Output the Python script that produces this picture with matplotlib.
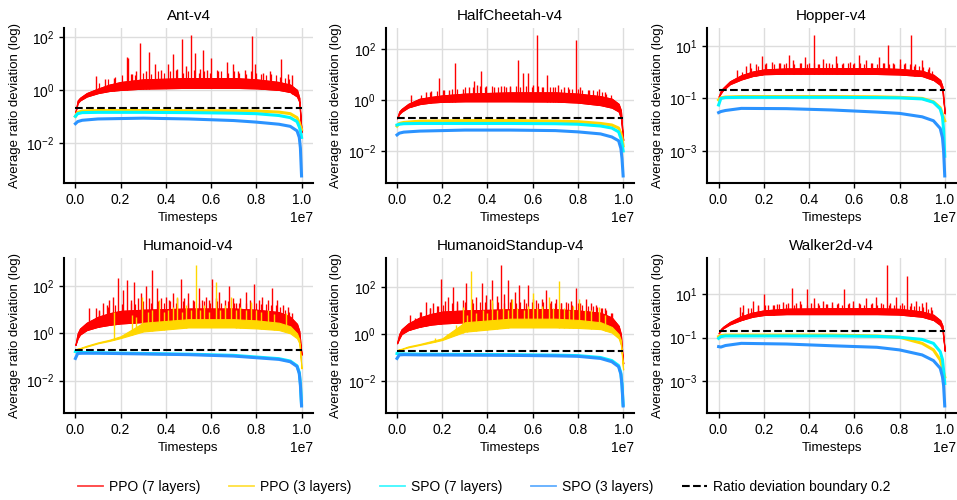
import numpy as np
import matplotlib.pyplot as plt
from matplotlib.lines import Line2D

plt.rcParams['font.family'] = ['Liberation Sans', 'DejaVu Sans']

# Environment names and y tick decades (log10)
envs = ['Ant-v4', 'HalfCheetah-v4', 'Hopper-v4',
        'Humanoid-v4', 'HumanoidStandup-v4', 'Walker2d-v4']
ytick_exps = [[-2, 0, 2], [-2, 0, 2], [-3, -1, 1],
              [-2, 0, 2], [-2, 0, 2], [-3, -1, 1]]
xticks = [0.0, 0.2, 0.4, 0.6, 0.8, 1.0]

# x positions (fraction of 1e7 timesteps)
x_band = [0, 0.01, 0.02, 0.05, 0.1, 0.15, 0.2, 0.3, 0.5, 0.7, 0.8, 0.9, 0.95, 0.98, 0.99, 1.0]
x_smooth = [0, 0.01, 0.03, 0.1, 0.3, 0.5, 0.7, 0.8, 0.9, 0.95, 0.98, 0.99, 0.995, 1.0]
# positions of the small noise peaks on top of the PPO (7 layers) band
small_x = [0.105, 0.145, 0.175, 0.205, 0.245, 0.265, 0.30, 0.335, 0.365, 0.39, 0.42,
           0.445, 0.475, 0.50, 0.525, 0.545, 0.57, 0.595, 0.625, 0.645, 0.675, 0.70,
           0.725, 0.755, 0.775, 0.80, 0.82, 0.845, 0.865, 0.885, 0.905, 0.925, 0.945]

boundary = 0.2

# All values below are log10 of the average ratio deviation.

# ---- PPO (7 layers): noisy band (low / high edge) plus spikes (x, peak) ----
ppo7_lo = {
    'Ant-v4':             [-0.85, -0.50, -0.40, -0.25, -0.12, -0.04, 0.00, 0.05, 0.08, 0.08, 0.06, 0.00, -0.08, -0.25, -0.45, -1.60],
    'HalfCheetah-v4':     [-0.72, -0.55, -0.46, -0.29, -0.16, -0.10, -0.07, -0.05, -0.05, -0.06, -0.10, -0.20, -0.30, -0.45, -0.70, -1.57],
    'Hopper-v4':          [-0.94, -0.80, -0.68, -0.46, -0.28, -0.15, -0.08, -0.06, -0.06, -0.07, -0.09, -0.15, -0.30, -0.49, -0.75, -1.57],
    'Humanoid-v4':        [-0.49, -0.21, -0.05, 0.14, 0.28, 0.36, 0.42, 0.48, 0.50, 0.50, 0.48, 0.42, 0.21, 0.00, -0.20, -0.90],
    'HumanoidStandup-v4': [-0.39, -0.18, 0.00, 0.17, 0.31, 0.40, 0.45, 0.50, 0.52, 0.52, 0.50, 0.45, 0.24, -0.04, -0.39, -1.24],
    'Walker2d-v4':        [-0.80, -0.68, -0.57, -0.39, -0.19, -0.04, 0.04, 0.08, 0.08, 0.08, 0.06, -0.04, -0.19, -0.42, -0.65, -1.60],
}
ppo7_hi = {
    'Ant-v4':             [-0.85, -0.40, -0.30, -0.12, 0.05, 0.20, 0.30, 0.40, 0.45, 0.45, 0.40, 0.30, 0.20, 0.00, -0.30, -1.60],
    'HalfCheetah-v4':     [-0.72, -0.45, -0.35, -0.15, 0.05, 0.12, 0.18, 0.25, 0.30, 0.30, 0.25, 0.15, 0.05, -0.15, -0.40, -1.57],
    'Hopper-v4':          [-0.94, -0.70, -0.60, -0.35, -0.12, 0.02, 0.10, 0.14, 0.15, 0.15, 0.12, 0.05, -0.10, -0.30, -0.55, -1.57],
    'Humanoid-v4':        [-0.49, 0.00, 0.20, 0.45, 0.70, 0.85, 0.95, 1.00, 1.05, 1.05, 1.00, 0.90, 0.70, 0.40, 0.10, -0.90],
    'HumanoidStandup-v4': [-0.39, 0.00, 0.20, 0.45, 0.70, 0.85, 0.95, 1.00, 1.05, 1.05, 1.00, 0.90, 0.70, 0.35, 0.00, -1.24],
    'Walker2d-v4':        [-0.80, -0.60, -0.50, -0.28, -0.02, 0.15, 0.25, 0.33, 0.35, 0.35, 0.32, 0.20, 0.05, -0.20, -0.45, -1.60],
}
ppo7_small_y = {
    'Ant-v4':             [0.25, 0.40, 0.50, 0.55, 0.60, 0.55, 0.65, 0.60, 0.70, 0.65, 0.70, 0.75, 0.65, 0.70, 0.75, 0.65, 0.70,
                           0.65, 0.75, 0.70, 0.65, 0.70, 0.65, 0.60, 0.70, 0.65, 0.60, 0.55, 0.60, 0.55, 0.50, 0.45, 0.40],
    'HalfCheetah-v4':     [0.20, 0.30, 0.35, 0.40, 0.45, 0.45, 0.50, 0.50, 0.55, 0.50, 0.55, 0.50, 0.55, 0.50, 0.55, 0.50, 0.55,
                           0.50, 0.55, 0.50, 0.50, 0.50, 0.45, 0.50, 0.45, 0.45, 0.40, 0.40, 0.40, 0.35, 0.30, 0.25, 0.20],
    'Hopper-v4':          [0.00, 0.15, 0.25, 0.30, 0.30, 0.35, 0.35, 0.30, 0.35, 0.30, 0.35, 0.30, 0.35, 0.30, 0.35, 0.30, 0.35,
                           0.30, 0.35, 0.30, 0.35, 0.30, 0.35, 0.30, 0.30, 0.30, 0.30, 0.30, 0.25, 0.25, 0.20, 0.10, 0.05],
    'Humanoid-v4':        [0.95, 1.10, 1.20, 1.25, 1.30, 1.25, 1.35, 1.30, 1.35, 1.30, 1.35, 1.30, 1.35, 1.30, 1.35, 1.30, 1.35,
                           1.30, 1.35, 1.30, 1.35, 1.30, 1.30, 1.30, 1.30, 1.30, 1.25, 1.25, 1.20, 1.20, 1.10, 1.00, 0.90],
    'HumanoidStandup-v4': [0.95, 1.10, 1.20, 1.25, 1.30, 1.30, 1.35, 1.30, 1.35, 1.35, 1.30, 1.35, 1.30, 1.35, 1.30, 1.35, 1.30,
                           1.35, 1.30, 1.35, 1.30, 1.30, 1.30, 1.30, 1.25, 1.30, 1.25, 1.20, 1.20, 1.15, 1.10, 1.00, 0.90],
    'Walker2d-v4':        [0.20, 0.35, 0.45, 0.50, 0.50, 0.55, 0.55, 0.50, 0.55, 0.50, 0.55, 0.50, 0.55, 0.50, 0.55, 0.50, 0.55,
                           0.50, 0.55, 0.50, 0.55, 0.50, 0.55, 0.50, 0.50, 0.50, 0.50, 0.45, 0.45, 0.45, 0.40, 0.30, 0.25],
}
ppo7_spike_x = {
    'Ant-v4': [0.09, 0.13, 0.17, 0.227, 0.234, 0.25, 0.27, 0.286, 0.31, 0.326, 0.35, 0.38, 0.41, 0.43,
               0.45, 0.47, 0.49, 0.51, 0.53, 0.55, 0.565, 0.58, 0.60, 0.63, 0.67, 0.695, 0.72, 0.75,
               0.78, 0.795, 0.83, 0.86, 0.91, 0.94, 0.96],
    'HalfCheetah-v4': [0.06, 0.13, 0.15, 0.185, 0.206, 0.23, 0.255, 0.29, 0.32, 0.34, 0.355, 0.372, 0.395,
                       0.43, 0.46, 0.48, 0.50, 0.533, 0.555, 0.58, 0.60, 0.617, 0.64, 0.665, 0.69, 0.713,
                       0.74, 0.76, 0.79, 0.81, 0.85, 0.894, 0.92],
    'Hopper-v4': [0.08, 0.12, 0.14, 0.165, 0.19, 0.21, 0.234, 0.27, 0.29, 0.31, 0.33, 0.36, 0.38, 0.40,
                  0.42, 0.44, 0.46, 0.49, 0.52, 0.55, 0.58, 0.60, 0.62, 0.65, 0.68, 0.71, 0.73, 0.75,
                  0.77, 0.80, 0.826, 0.85, 0.87, 0.90, 0.93],
    'Humanoid-v4': [0.06, 0.09, 0.105, 0.12, 0.14, 0.15, 0.165, 0.19, 0.21, 0.23, 0.245, 0.26, 0.275,
                    0.29, 0.31, 0.325, 0.34, 0.36, 0.38, 0.40, 0.415, 0.43, 0.45, 0.466, 0.48, 0.50,
                    0.52, 0.547, 0.56, 0.577, 0.59, 0.606, 0.62, 0.636, 0.66, 0.68, 0.695, 0.71, 0.73,
                    0.754, 0.77, 0.79, 0.81, 0.827, 0.85, 0.87, 0.89, 0.916, 0.94, 0.96],
    'HumanoidStandup-v4': [0.056, 0.08, 0.10, 0.126, 0.145, 0.16, 0.18, 0.196, 0.21, 0.225, 0.247, 0.265,
                           0.29, 0.306, 0.33, 0.35, 0.376, 0.394, 0.41, 0.42, 0.44, 0.46, 0.475, 0.49,
                           0.505, 0.52, 0.54, 0.56, 0.58, 0.60, 0.615, 0.64, 0.66, 0.68, 0.705, 0.725,
                           0.747, 0.77, 0.79, 0.81, 0.835, 0.86, 0.88, 0.90, 0.92, 0.95],
    'Walker2d-v4': [0.094, 0.106, 0.13, 0.153, 0.175, 0.20, 0.22, 0.24, 0.26, 0.285, 0.305, 0.324, 0.34,
                    0.36, 0.39, 0.41, 0.42, 0.44, 0.46, 0.48, 0.50, 0.53, 0.555, 0.575, 0.594, 0.62,
                    0.653, 0.68, 0.697, 0.72, 0.743, 0.76, 0.785, 0.81, 0.832, 0.85, 0.874, 0.90,
                    0.918, 0.94],
}
ppo7_spike_y = {
    'Ant-v4': [0.53, 0.40, 0.45, 1.26, 1.20, 0.60, 0.70, 1.79, 0.70, 1.45, 1.00, 0.75, 1.00, 1.38,
               0.80, 1.94, 0.90, 2.08, 1.40, 0.80, 1.50, 0.75, 1.20, 0.70, 1.07, 1.00, 0.70, 0.75,
               2.05, 1.00, 0.65, 0.70, 1.16, 0.60, 0.55],
    'HalfCheetah-v4': [0.20, 0.30, 0.35, 0.85, 0.40, 0.40, 1.44, 0.45, 0.50, 0.75, 0.60, 1.14, 0.55,
                       0.50, 0.55, 0.50, 0.55, 1.57, 1.07, 1.05, 0.60, 2.55, 0.50, 0.98, 0.50, 0.60,
                       0.50, 0.45, 2.35, 0.50, 0.40, 0.45, 0.30],
    'Hopper-v4': [0.08, 0.25, 0.33, 0.30, 0.61, 0.35, 0.39, 0.35, 0.30, 0.65, 0.45, 0.35, 0.58, 0.35,
                  1.41, 0.30, 0.50, 0.35, 0.60, 0.35, 0.40, 0.35, 0.65, 0.45, 0.35, 0.58, 0.35, 1.03,
                  0.35, 0.50, 0.35, 1.41, 0.30, 0.46, 0.20],
    'Humanoid-v4': [1.06, 1.06, 1.00, 1.27, 1.20, 1.40, 1.55, 2.35, 1.83, 2.25, 1.40, 2.18, 1.50,
                    1.70, 2.00, 1.50, 2.68, 1.90, 1.50, 1.55, 1.40, 1.70, 1.50, 2.32, 1.50, 1.70,
                    1.40, 1.90, 1.40, 1.55, 1.40, 2.32, 1.50, 1.77, 1.40, 2.00, 1.50, 1.27, 1.50,
                    1.77, 1.40, 2.10, 1.40, 1.55, 1.40, 1.90, 1.40, 1.20, 1.10, 0.85],
    'HumanoidStandup-v4': [0.80, 0.70, 0.94, 1.37, 1.10, 1.30, 1.20, 2.31, 1.40, 1.58, 2.00, 1.40,
                           1.44, 2.14, 1.50, 1.58, 2.14, 1.65, 1.50, 2.28, 1.60, 2.92, 1.70, 2.28,
                           1.50, 1.79, 2.07, 1.50, 2.07, 1.50, 1.44, 1.50, 1.86, 1.40, 1.50, 1.30,
                           1.37, 1.40, 1.93, 1.30, 1.50, 1.30, 1.23, 1.10, 1.09, 0.90],
    'Walker2d-v4': [0.42, 0.50, 0.35, 0.69, 0.50, 0.98, 0.50, 0.50, 0.55, 0.65, 0.60, 1.29, 0.60,
                    0.70, 1.23, 0.60, 0.80, 0.60, 0.70, 0.55, 0.65, 0.60, 1.21, 0.60, 0.70, 0.60,
                    0.80, 0.60, 0.85, 0.60, 2.33, 0.60, 0.85, 0.60, 1.84, 0.60, 0.70, 0.60,
                    0.65, 0.40],
}

# ---- PPO (3 layers): noisy band in the Humanoid tasks, smooth line elsewhere ----
ppo3_lo = {
    'Humanoid-v4':        [-0.68, -0.66, -0.64, -0.56, -0.42, -0.32, -0.20, 0.08, 0.25, 0.25, 0.21, 0.14, 0.00, -0.21, -0.42, -1.48],
    'HumanoidStandup-v4': [-0.68, -0.66, -0.64, -0.56, -0.46, -0.36, -0.25, 0.10, 0.28, 0.28, 0.26, 0.21, 0.06, -0.18, -0.46, -1.50],
}
ppo3_hi = {
    'Humanoid-v4':        [-0.68, -0.64, -0.62, -0.52, -0.38, -0.27, -0.12, 0.45, 0.60, 0.60, 0.55, 0.45, 0.30, 0.00, -0.25, -1.48],
    'HumanoidStandup-v4': [-0.68, -0.64, -0.62, -0.52, -0.42, -0.30, -0.18, 0.50, 0.65, 0.65, 0.60, 0.50, 0.30, 0.00, -0.25, -1.50],
}
ppo3_spike_x = {
    'Humanoid-v4': [0.17, 0.25, 0.27, 0.296, 0.32, 0.34, 0.37, 0.39, 0.41, 0.43, 0.45, 0.47, 0.49, 0.51,
                    0.533, 0.55, 0.57, 0.59, 0.62, 0.64, 0.66, 0.69, 0.71, 0.73, 0.755, 0.776, 0.80,
                    0.82, 0.85, 0.88, 0.93],
    'HumanoidStandup-v4': [0.166, 0.22, 0.26, 0.29, 0.31, 0.328, 0.35, 0.38, 0.40, 0.42, 0.44, 0.47,
                           0.49, 0.51, 0.53, 0.56, 0.58, 0.60, 0.62, 0.64, 0.67, 0.69, 0.718, 0.74,
                           0.76, 0.78, 0.806, 0.83, 0.86, 0.894, 0.92],
}
ppo3_spike_y = {
    'Humanoid-v4': [0.90, 0.77, 0.70, 1.55, 0.90, 1.00, 1.40, 0.90, 1.00, 1.10, 1.55, 0.90, 1.20, 1.00,
                    2.89, 1.00, 1.20, 0.90, 2.18, 1.00, 1.20, 1.55, 1.00, 1.10, 1.00, 1.34, 1.00,
                    0.90, 1.00, 0.80, 0.85],
    'HumanoidStandup-v4': [-0.15, 0.00, 0.40, 1.15, 0.80, 2.68, 0.90, 1.00, 0.90, 1.44, 1.00, 1.10,
                           1.00, 1.50, 1.10, 1.00, 1.20, 1.72, 1.10, 1.20, 1.58, 1.10, 2.25, 1.10,
                           1.00, 1.20, 1.50, 1.00, 1.00, 1.15, 0.80],
}
ppo3_smooth = {
    'Ant-v4':         [-1.00, -0.85, -0.80, -0.78, -0.78, -0.79, -0.79, -0.80, -0.84, -0.90, -1.05, -1.25, -1.38, -1.50],
    'HalfCheetah-v4': [-1.02, -0.92, -0.88, -0.83, -0.81, -0.81, -0.83, -0.85, -0.92, -0.98, -1.10, -1.30, -1.50, -1.80],
    'Hopper-v4':      [-1.06, -0.98, -0.95, -0.93, -0.93, -0.93, -0.94, -0.96, -1.00, -1.13, -1.35, -1.60, -1.75, -1.85],
    'Walker2d-v4':    [-0.95, -0.90, -0.88, -0.88, -0.88, -0.88, -0.92, -0.98, -1.26, -1.56, -2.02, -2.40, -2.60, -2.80],
}

# ---- SPO (7 layers) ----
spo7 = {
    'Ant-v4':             [-1.00, -0.90, -0.86, -0.85, -0.85, -0.86, -0.88, -0.90, -0.97, -1.05, -1.20, -1.40, -1.55, -1.80],
    'HalfCheetah-v4':     [-0.98, -0.95, -0.93, -0.92, -0.92, -0.92, -0.93, -0.95, -1.02, -1.10, -1.25, -1.50, -1.70, -2.00],
    'Hopper-v4':          [-1.25, -1.00, -0.97, -0.96, -0.96, -0.96, -0.97, -0.98, -1.02, -1.15, -1.40, -1.70, -2.20, -3.20],
    'Humanoid-v4':        [-0.77, -0.80, -0.81, -0.82, -0.85, -0.88, -0.93, -1.00, -1.07, -1.17, -1.37, -1.65, -2.10, -3.00],
    'HumanoidStandup-v4': [-0.82, -0.84, -0.84, -0.85, -0.86, -0.87, -0.89, -0.91, -0.99, -1.12, -1.33, -1.65, -2.10, -3.00],
    'Walker2d-v4':        [-1.03, -0.95, -0.92, -0.92, -0.92, -0.92, -0.94, -0.98, -1.08, -1.26, -1.64, -2.00, -2.50, -3.10],
}

# ---- SPO (3 layers) ----
spo3 = {
    'Ant-v4':             [-1.28, -1.20, -1.15, -1.10, -1.07, -1.10, -1.16, -1.22, -1.30, -1.38, -1.55, -1.80, -2.20, -3.26],
    'HalfCheetah-v4':     [-1.37, -1.30, -1.26, -1.22, -1.18, -1.18, -1.20, -1.25, -1.33, -1.45, -1.60, -1.90, -2.30, -2.98],
    'Hopper-v4':          [-1.54, -1.50, -1.46, -1.38, -1.39, -1.44, -1.52, -1.57, -1.70, -1.85, -2.14, -2.50, -3.00, -3.95],
    'Humanoid-v4':        [-1.06, -0.85, -0.84, -0.84, -0.87, -0.90, -0.96, -1.03, -1.10, -1.20, -1.40, -1.70, -2.20, -3.07],
    'HumanoidStandup-v4': [-1.03, -0.88, -0.87, -0.88, -0.89, -0.90, -0.92, -0.94, -1.03, -1.17, -1.38, -1.70, -2.20, -3.04],
    'Walker2d-v4':        [-1.41, -1.43, -1.36, -1.26, -1.29, -1.37, -1.44, -1.56, -1.79, -2.05, -2.40, -2.80, -3.20, -4.13],
}

RED = '#ff0000'
GOLD = '#ffd700'
CYAN = '#00f5ff'
BLUE = '#2b93ff'


def noisy(ax, lo, hi, sx, sy, color, z, lw=1.0):
    # band of the noisy curve plus its spikes, each spike rising from the band
    xb = np.array(x_band) * 1e7
    ax.fill_between(xb, 10 ** np.array(lo), 10 ** np.array(hi), color=color,
                    lw=0.8, edgecolor=color, zorder=z)
    sx = np.array(sx)
    base = np.interp(sx, x_band, lo)
    ax.vlines(sx * 1e7, 10 ** base, 10 ** np.array(sy), color=color, lw=lw, zorder=z)


fig, axes = plt.subplots(2, 3, figsize=(9.57, 5.0), dpi=100)
fig.subplots_adjust(left=0.067, right=0.999, top=0.944, bottom=0.174,
                    wspace=0.293, hspace=0.484)

xs = np.array(x_smooth) * 1e7

for ax, env, yexp in zip(axes.flat, envs, ytick_exps):
    noisy(ax, ppo7_lo[env], ppo7_hi[env], small_x, ppo7_small_y[env], RED, 2, lw=0.9)
    noisy(ax, ppo7_lo[env], ppo7_hi[env], ppo7_spike_x[env], ppo7_spike_y[env], RED, 2)
    if env in ppo3_lo:
        noisy(ax, ppo3_lo[env], ppo3_hi[env], ppo3_spike_x[env], ppo3_spike_y[env], GOLD, 3)
    else:
        ax.plot(xs, 10 ** np.array(ppo3_smooth[env]), color=GOLD, lw=2.2, zorder=3)
    ax.plot(xs, 10 ** np.array(spo7[env]), color=CYAN, lw=2.2, zorder=4)
    ax.plot(xs, 10 ** np.array(spo3[env]), color=BLUE, lw=2.2, zorder=5)
    ax.plot([0, 1e7], [boundary, boundary], color='black', ls='--', lw=1.5, zorder=6)

    ax.set_yscale('log')
    ax.set_yticks([10.0 ** e for e in yexp])
    ax.minorticks_off()
    ax.set_xticks([t * 1e7 for t in xticks])
    ax.set_title(env, fontsize=11)
    ax.set_xlabel('Timesteps', fontsize=9.5)
    ax.set_ylabel('Average ratio deviation (log)', fontsize=9.5)
    ax.tick_params(labelsize=10, length=3.5, width=1, direction='out')
    ax.xaxis.get_offset_text().set_fontsize(10)
    ax.grid(True, color='#dddddd', lw=1)
    ax.set_axisbelow(True)
    for s in ['top', 'right']:
        ax.spines[s].set_visible(False)
    for s in ['left', 'bottom']:
        ax.spines[s].set_linewidth(1.5)

handles = [
    Line2D([], [], color=RED, lw=1.3, alpha=0.75),
    Line2D([], [], color=GOLD, lw=1.3, alpha=0.75),
    Line2D([], [], color=CYAN, lw=1.3, alpha=0.75),
    Line2D([], [], color=BLUE, lw=1.3, alpha=0.75),
    Line2D([], [], color='black', lw=1.5, ls='--'),
]
labels = ['PPO (7 layers)', 'PPO (3 layers)', 'SPO (7 layers)', 'SPO (3 layers)',
          'Ratio deviation boundary 0.2']
fig.legend(handles, labels, loc='center', bbox_to_anchor=(0.506, 0.026), ncol=5,
           frameon=False, fontsize=10, handlelength=1.8, handletextpad=0.4,
           columnspacing=2.1)

fig.savefig('out.png', dpi=100)
